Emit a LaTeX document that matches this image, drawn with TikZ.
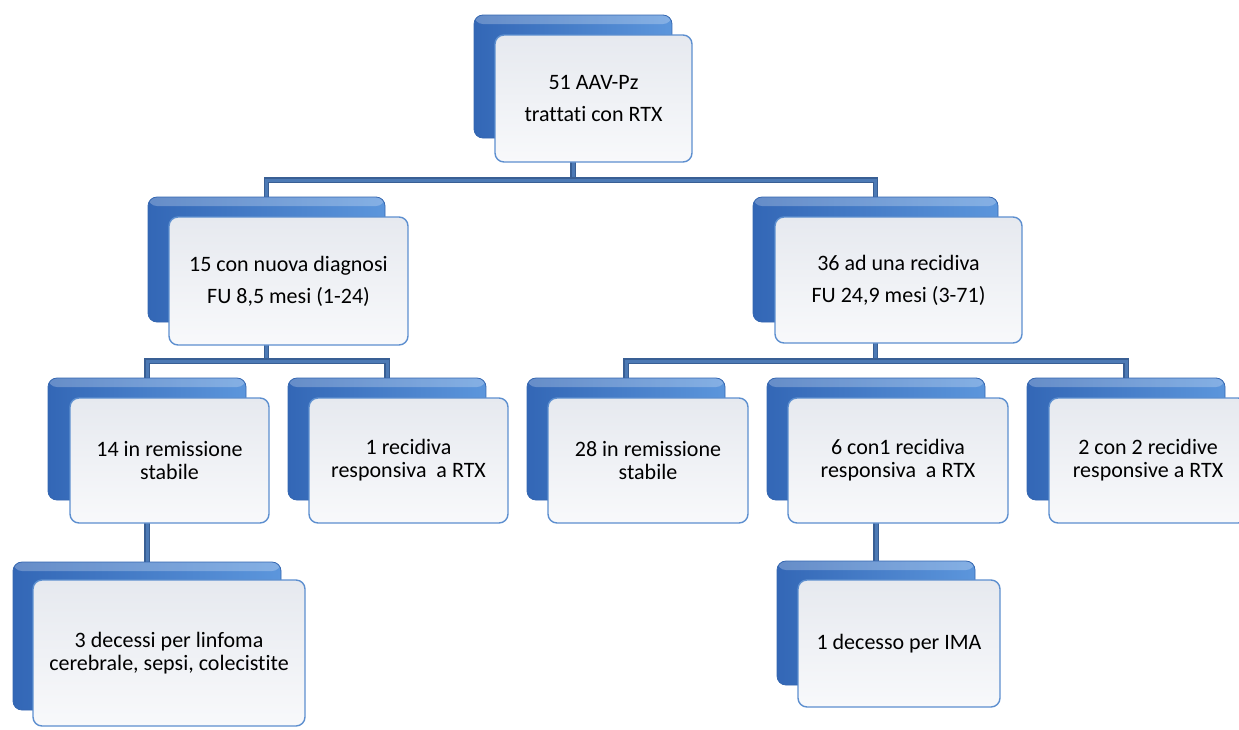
\documentclass[tikz,border=0pt]{standalone}
\usepackage{fontspec}
\setmainfont{Carlito}[Ligatures={NoCommon}]
\usetikzlibrary{backgrounds}
\definecolor{bdark}{HTML}{3367B6}
\definecolor{blight}{HTML}{5C96DC}
\definecolor{bbord}{HTML}{3466B0}
\definecolor{fbord}{HTML}{5D8FCF}
\definecolor{ftop}{HTML}{E6E9EF}
\definecolor{fmid}{HTML}{EAEDF2}
\definecolor{fbot}{HTML}{F8F9FB}
\definecolor{cdark}{HTML}{395F94}
\definecolor{cmid}{HTML}{4D7AB5}
\tikzset{
  backbox/.style={rectangle, rounded corners=9pt, draw=bbord, line width=0.8pt,
    left color=bdark, right color=blight, inner sep=0pt,
    path picture={\fill[white,opacity=0.25] (path picture bounding box.north west) rectangle ([yshift=-9pt]path picture bounding box.north east);}},
  frontbox/.style={rectangle, rounded corners=9pt, draw=fbord, line width=1.4pt,
    top color=ftop, middle color=fmid, bottom color=fbot, inner sep=0pt, align=center,
    font=\fontsize{22}{23}\selectfont},
  widebox/.style={font=\fontsize{22}{32}\selectfont},
  conn/.style={draw=cdark, double=cmid, double distance=3pt, line width=1.1pt},
}
\begin{document}
\begin{tikzpicture}[x=1pt,y=-1pt]
\useasboundingbox (0,0) rectangle (1239,729);
\clip (0,0) rectangle (1239,729);
% level 1
\node[backbox, minimum width=198pt, minimum height=123pt] (topB) at (573,76.5) {};
\node[frontbox, widebox, minimum width=197pt, minimum height=127pt] (top) at (593.5,98.5) {51 AAV-Pz\\trattati con RTX};
% level 2
\node[backbox, minimum width=237pt, minimum height=125pt] (l2aB) at (266.5,259.5) {};
\node[frontbox, widebox, minimum width=239pt, minimum height=128pt] (l2a) at (288.5,281) {15 con nuova diagnosi\\FU 8,5 mesi (1-24)};
\node[backbox, minimum width=245pt, minimum height=125pt] (l2bB) at (875.5,259.5) {};
\node[frontbox, widebox, minimum width=247pt, minimum height=126pt] (l2b) at (898.5,280) {36 ad una recidiva\\FU 24,9 mesi (3-71)};
% level 3
\node[backbox, minimum width=198pt, minimum height=122pt] (l3aB) at (147,439) {};
\node[frontbox, minimum width=199pt, minimum height=125pt] (l3a) at (169.5,460.5) {14 in remissione\\stabile};
\node[backbox, minimum width=198pt, minimum height=122pt] (l3bB) at (387,439) {};
\node[frontbox, minimum width=199pt, minimum height=125pt] (l3b) at (408.5,460.5) {1 recidiva\\responsiva~ a RTX};
\node[backbox, minimum width=198pt, minimum height=122pt] (l3cB) at (626,439) {};
\node[frontbox, minimum width=200pt, minimum height=125pt] (l3c) at (648,460.5) {28 in remissione\\stabile};
\node[backbox, minimum width=218pt, minimum height=122pt] (l3dB) at (876,439) {};
\node[frontbox, minimum width=220pt, minimum height=125pt] (l3d) at (898,460.5) {6 con1 recidiva\\responsiva~ a RTX};
\node[backbox, minimum width=198pt, minimum height=122pt] (l3eB) at (1126,439) {};
\node[frontbox, minimum width=198pt, minimum height=125pt] (l3e) at (1148,460.5) {2 con 2 recidive\\responsive a RTX};
% level 4
\node[backbox, minimum width=268pt, minimum height=148pt] (l4aB) at (147,636) {};
\node[frontbox, minimum width=272pt, minimum height=146pt] (l4a) at (169,653) {3 decessi per linfoma\\cerebrale, sepsi, colecistite};
\node[backbox, minimum width=198pt, minimum height=124pt] (l4bB) at (876,623) {};
\node[frontbox, minimum width=202pt, minimum height=127pt] (l4b) at (899,643.5) {1 decesso per IMA};
% connectors
\coordinate (bar1) at (573,180);
\coordinate (bar2) at (0,361);
\begin{scope}[on background layer]
\draw[conn] (topB.south) -- (bar1);
\draw[conn] (l2aB.north) -- (l2aB.north |- bar1) -- (l2bB.north |- bar1) -- (l2bB.north);
\draw[conn] (l2aB.south) -- (l2aB.south |- bar2);
\draw[conn] (l3aB.north) -- (l3aB.north |- bar2) -- (l3bB.north |- bar2) -- (l3bB.north);
\draw[conn] (l2bB.south) -- (l2bB.south |- bar2);
\draw[conn] (l3cB.north) -- (l3cB.north |- bar2) -- (l3eB.north |- bar2) -- (l3eB.north);
\draw[conn] (l3aB.south) -- (l4aB.north);
\draw[conn] (l3dB.south) -- (l4bB.north);
\end{scope}
\end{tikzpicture}
\end{document}
